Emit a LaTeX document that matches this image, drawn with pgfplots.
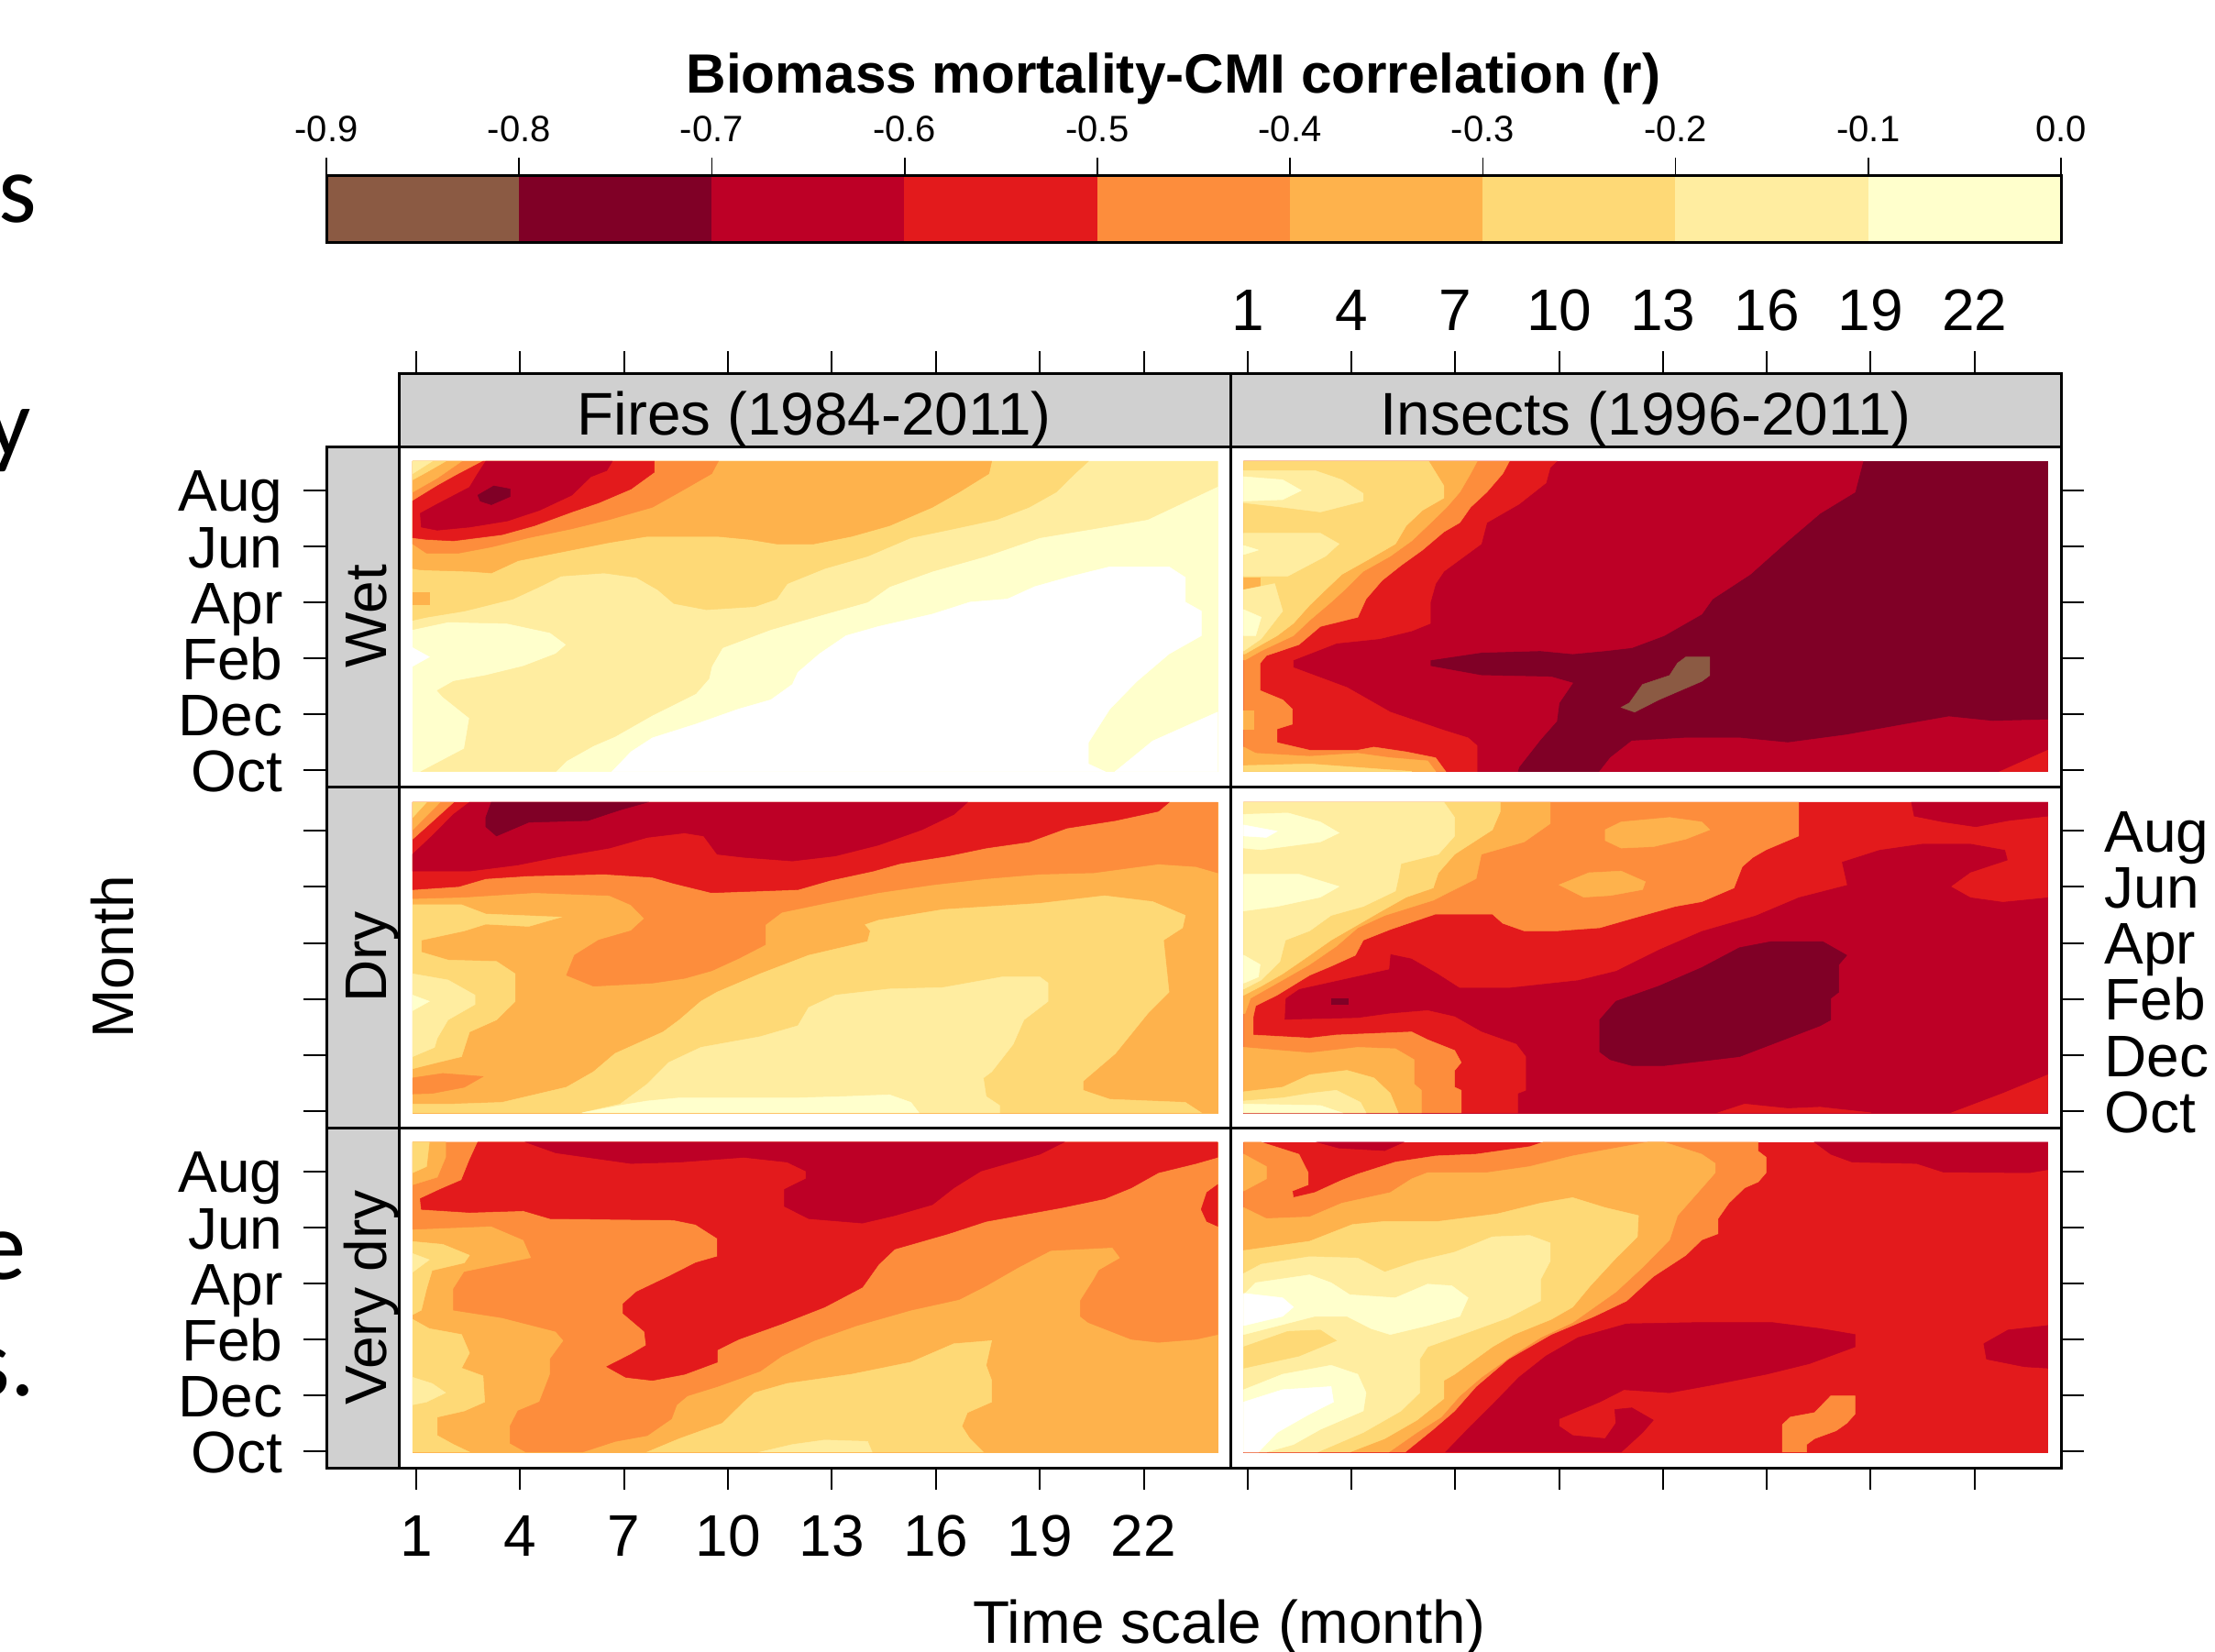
\documentclass[border=0pt]{standalone}
\usepackage{pgfplots}
\pgfplotsset{compat=1.18}
\usepackage{fontspec}
\setmainfont{Liberation Sans}
\newfontfamily\calibri{Carlito}
\definecolor{ca}{RGB}{139,90,67}
\definecolor{cb}{RGB}{128,0,38}
\definecolor{cc}{RGB}{189,0,38}
\definecolor{cd}{RGB}{227,26,28}
\definecolor{ce}{RGB}{253,141,60}
\definecolor{cf}{RGB}{254,178,76}
\definecolor{cg}{RGB}{254,217,118}
\definecolor{ch}{RGB}{255,237,160}
\definecolor{ci}{RGB}{255,255,204}
\definecolor{stripgray}{RGB}{208,208,208}
\newcommand\pg[2]{\addplot[fill=#1,draw=#1,line width=0.15pt] coordinates {#2} -- cycle;}
\newcommand\lab{\fontsize{19.2}{22}\selectfont}
\newcommand\labb{\fontsize{19.7}{22}\selectfont}
\pgfplotsset{
 panel/.style={scale only axis,anchor=north west,xmin=0.5,xmax=24.5,ymin=0.42,ymax=12.57,
   xtick=\empty,ytick=\empty,axis line style={line width=0.9pt},clip=true},
 rowticks/.style={scale only axis,anchor=north west,width=567.6pt,height=111.3pt,
   xmin=0,xmax=1,ymin=0.42,ymax=12.57,xtick=\empty,ytick={1,3,5,7,9,11},
   yticklabels={Oct,Dec,Feb,Apr,Jun,Aug},ytick pos=both,tick align=outside,major tick length=7.5pt,
   axis line style={draw=none},tick style={line width=0.6pt,black},
   tick label style={font=\lab,inner xsep=6.6pt,inner ysep=0pt,text height=13.8pt,text depth=0pt}},
 colticks/.style={scale only axis,anchor=north west,height=358.2pt,
   xmin=0.5,xmax=24.5,ymin=0,ymax=1,ytick=\empty,xtick={1,4,7,10,13,16,19,22},
   xticklabels={1,4,7,10,13,16,19,22},xtick pos=both,tick align=outside,major tick length=7.2pt,
   axis line style={draw=none},tick style={line width=0.6pt,black},
   tick label style={font=\lab}},
}
\begin{document}
\begin{tikzpicture}
\path[use as bounding box] (0,0) rectangle (724.8pt,-540.3pt);
\clip (0,0) rectangle (724.8pt,-540.3pt);
% stray letters
\node[anchor=base east,inner sep=0pt] at (12.3pt,-72.6pt) {\calibri\fontsize{32}{36}\selectfont s};
\node[anchor=base east,inner sep=0pt] at (10.3pt,-149.1pt) {\calibri\fontsize{32}{36}\selectfont y};
\node[anchor=base east,inner sep=0pt] at (8.7pt,-418.5pt) {\calibri\fontsize{32}{36}\selectfont e};
\node[anchor=base east,inner sep=0pt] at (11.7pt,-456.6pt) {\calibri\fontsize{32}{36}\selectfont s.};
% title
\node[anchor=base,inner sep=0pt] at (384pt,-30.4pt) {\fontsize{18.1}{20}\selectfont\bfseries Biomass mortality-CMI correlation (r)};
% colour bar
\begin{axis}[scale only axis,anchor=north west,at={(106.8pt,-57.3pt)},width=567.6pt,height=21.9pt,
  xmin=-0.9,xmax=0,ymin=0,ymax=1,ytick=\empty,axis on top,
  xtick={-0.9,-0.8,-0.7,-0.6,-0.5,-0.4,-0.3,-0.2,-0.1,0},
  xticklabels={-0.9,-0.8,-0.7,-0.6,-0.5,-0.4,-0.3,-0.2,-0.1,0.0},
  xtick pos=upper,xticklabel pos=upper,tick align=outside,major tick length=5.7pt,
  axis line style={line width=0.9pt},tick style={line width=0.5pt,black},
  tick label style={font=\fontsize{12}{14}\selectfont,inner ysep=4.9pt}]
\pg{ca}{(-0.9,0)(-0.8,0)(-0.8,1)(-0.9,1)}
\pg{cb}{(-0.8,0)(-0.7,0)(-0.7,1)(-0.8,1)}
\pg{cc}{(-0.7,0)(-0.6,0)(-0.6,1)(-0.7,1)}
\pg{cd}{(-0.6,0)(-0.5,0)(-0.5,1)(-0.6,1)}
\pg{ce}{(-0.5,0)(-0.4,0)(-0.4,1)(-0.5,1)}
\pg{cf}{(-0.4,0)(-0.3,0)(-0.3,1)(-0.4,1)}
\pg{cg}{(-0.3,0)(-0.2,0)(-0.2,1)(-0.3,1)}
\pg{ch}{(-0.2,0)(-0.1,0)(-0.1,1)(-0.2,1)}
\pg{ci}{(-0.1,0)(0,0)(0,1)(-0.1,1)}
\end{axis}
% strips
\foreach \a/\b in {130.5/402.6,402.6/674.4}{
 \draw[fill=stripgray,line width=0.9pt] (\a pt,-122.1pt) rectangle (\b pt,-146.1pt);}
\foreach \a/\b in {146.1/257.4,257.4/369,369/480.3}{
 \draw[fill=stripgray,line width=0.9pt] (106.8pt,-\a pt) rectangle (130.5pt,-\b pt);}
\node[anchor=base,inner sep=0pt] at (266.4pt,-142.2pt) {\labb Fires (1984-2011)};
\node[anchor=base,inner sep=0pt] at (538.5pt,-142.2pt) {\labb Insects (1996-2011)};
\node[anchor=base,inner sep=0pt,rotate=90] at (126.3pt,-201.75pt) {\lab Wet};
\node[anchor=base,inner sep=0pt,rotate=90] at (126.3pt,-313.2pt) {\lab Dry};
\node[anchor=base,inner sep=0pt,rotate=90] at (126.3pt,-424.65pt) {\lab Very dry};
\node[anchor=base,inner sep=0pt,rotate=90] at (43.5pt,-313.2pt) {\lab Month};
\node[anchor=base,inner sep=0pt] at (402.3pt,-537.6pt) {\labb Time scale (month)};

% ---------- Fires / Wet
\begin{axis}[panel,at={(130.5pt,-146.1pt)},width=272.1pt,height=111.3pt]
\pg{ci}{(.9,.96)(24.13,.96)(24.13,12.04)(.9,12.04)}
\pg{white}{(6.66,.96)(7.2,1.66)(7.82,2.16)(9.07,2.65)(10.31,3.19)(11.24,3.52)(11.86,4.07)(12.02,4.5)(12.64,5.16)(13.41,5.81)(14.35,6.14)(15.9,6.58)(16.99,7.01)(18.07,7.12)(18.85,7.56)(19.94,7.94)(21.02,8.27)(22.73,8.27)(23.2,7.89)(23.2,7.01)(23.66,6.69)(23.66,5.81)(22.73,5.16)(21.8,4.18)(21.02,3.19)(20.4,1.99)(20.4,1.23)(20.87,.96)}
\pg{white}{(21.18,.96)(22.26,2.05)(24.13,3.08)(24.13,.96)}
\pg{ch}{(24.13,11.14)(22.11,9.96)(20.56,9.63)(19,9.31)(17.45,8.65)(15.9,8.11)(14.66,7.56)(14.03,7.01)(12.79,6.58)(11.24,6.03)(9.84,5.38)(9.53,4.72)(9.45,4.28)(9.07,3.74)(7.82,2.97)(6.74,2.21)(6.12,1.88)(5.34,1.34)(5.03,.96)(1.15,.96)(2.39,1.77)(2.54,2.87)(1.77,3.63)(1.61,3.85)(2.08,4.18)(3.01,4.39)(4.1,4.72)(5.03,5.16)(5.34,5.49)(4.87,5.92)(3.63,6.25)(1.92,6.3)(.9,6.03)(.9,12.04)(24.13,12.04)}
\pg{white}{(.9,5.38)(1.38,5.05)(.9,4.72)}
\pg{cg}{(20.4,12.04)(20.01,11.6)(19.47,10.94)(18.69,10.4)(17.76,9.96)(16.52,9.63)(15.28,9.31)(14.03,8.65)(12.79,8.21)(11.71,7.67)(11.4,7.12)(10.77,6.85)(9.38,6.74)(8.44,6.96)(7.98,7.45)(7.36,7.89)(6.43,8.05)(5.18,7.94)(4.56,7.56)(3.79,7.12)(2.39,6.69)(1.3,6.47)(.9,6.36)(.9,12.04)}
\pg{cf}{(17.61,12.04)(17.53,11.6)(16.67,10.94)(15.9,10.4)(14.66,9.74)(13.57,9.36)(12.48,9.09)(11.4,9.09)(10.62,9.25)(9.69,9.36)(7.67,9.36)(6.58,9.14)(5.03,8.76)(3.94,8.49)(3.17,8.05)(2.54,8.11)(1.15,8.16)(.9,8.21)(.9,12.04)}
\pg{cf}{(.9,7.37)(1.38,7.37)(1.38,6.94)(.9,6.94)}
\pg{ce}{(9.72,12.04)(9.53,11.6)(8.6,10.94)(7.82,10.4)(6.58,9.96)(5.49,9.63)(4.25,9.31)(3.17,8.98)(2.23,8.76)(1.3,8.76)(.9,9.09)(.9,12.04)}
\pg{cd}{(7.87,12.04)(7.87,11.65)(7.2,11.05)(6.27,10.56)(5.49,10.23)(4.41,9.74)(3.48,9.42)(2.08,9.2)(1.3,9.25)(.9,9.31)(.9,10.62)(1.61,11.16)(2.16,11.54)(2.93,12.04)}
\pg{cc}{(6.66,12.04)(6.5,11.71)(6.04,11.49)(5.49,10.83)(4.56,10.29)(3.63,9.91)(2.54,9.69)(1.61,9.58)(1.15,9.69)(1.12,10.18)(1.61,10.51)(2.54,11.11)(2.78,11.6)(3.01,12.04)}
\pg{cb}{(2.78,10.83)(3.24,11.16)(3.71,11.05)(3.71,10.78)(3.17,10.49)(2.85,10.62)}
\pg{cf}{(.9,10.94)(1.61,11.44)(2.31,12.04)(.9,12.04)}
\pg{cg}{(.9,11.38)(1.3,11.65)(1.85,12.04)(.9,12.04)}
\pg{ch}{(.9,11.6)(1.46,12.04)(.9,12.04)}
\end{axis}

% ---------- Insects / Wet
\begin{axis}[panel,at={(402.6pt,-146.1pt)},width=271.8pt,height=111.3pt]
\pg{cb}{(.89,.96)(24.12,.96)(24.12,12.04)(.89,12.04)}
\pg{cc}{(18.78,12.04)(18.55,10.94)(17.54,10.18)(16.61,9.2)(15.52,8)(14.43,7.12)(14.12,6.58)(13.03,5.81)(12.1,5.38)(11.33,5.27)(10.39,5.16)(9.46,5.27)(7.75,5.21)(6.28,4.94)(6.28,4.72)(7.75,4.39)(9.77,4.34)(10.39,4.12)(10,3.41)(9.93,2.76)(9.46,2.1)(8.84,1.12)(8.8,.96)(.89,.96)(.89,12.04)}
\pg{cc}{(11.17,.96)(11.48,1.45)(12.1,2.05)(13.66,2.16)(15.21,2.16)(16.61,1.99)(18.31,2.27)(20.02,2.65)(21.26,2.92)(22.51,2.76)(24.12,2.81)(24.12,.96)}
\pg{cd}{(22.74,.96)(24.12,1.72)(24.12,.96)}
\pg{ca}{(13.66,5.05)(14.35,5.05)(14.35,4.39)(14.12,4.18)(12.88,3.52)(12.18,3.08)(11.79,3.25)(12.03,3.41)(12.41,4.07)(13.19,4.39)(13.42,4.83)}
\pg{cd}{(9.93,12.04)(9.74,11.82)(9.62,11.27)(8.84,10.51)(7.91,9.85)(7.75,9.09)(6.67,8.11)(6.43,7.67)(6.28,7.01)(6.28,6.25)(5.74,5.98)(4.81,5.7)(3.57,5.54)(2.32,4.94)(2.32,4.67)(3.87,3.96)(5.12,3.08)(6.67,2.43)(7.37,2.16)(7.63,1.88)(7.63,.96)(.89,.96)(.89,12.04)}
\pg{ce}{(8.56,12.04)(8.37,11.6)(7.91,10.94)(7.44,10.4)(7.13,9.85)(6.67,9.52)(6.05,8.87)(5.43,8.32)(4.88,7.78)(4.42,7.12)(4.18,6.47)(3.1,6.14)(2.48,5.49)(1.54,5.1)(1.36,4.83)(1.36,3.85)(2.01,3.52)(2.29,3.19)(2.29,2.65)(1.85,2.48)(1.85,1.99)(2.79,1.72)(4.18,1.72)(4.65,1.83)(5.58,1.66)(6.43,1.45)(6.72,.96)(.89,.96)(.89,12.04)}
\pg{cf}{(7.63,12.04)(7.44,11.6)(7.13,10.94)(6.75,10.4)(6.2,9.74)(5.74,9.2)(5.12,8.65)(4.34,8.11)(3.8,7.45)(3.41,7.01)(2.79,6.36)(2.32,5.81)(1.39,5.27)(.92,4.94)(.89,4.94)(.89,12.04)}
\pg{cf}{(.89,1.83)(1.23,1.61)(2.79,1.5)(4.18,1.61)(5.12,1.45)(6.2,1.34)(6.43,.96)(.89,.96)}
\pg{cf}{(.89,3.14)(1.16,3.14)(1.16,2.48)(.89,2.48)}
\pg{cg}{(.89,1.17)(2.79,1.23)(5.74,.96)(.89,.96)}
\pg{cg}{(6.23,12.04)(6.67,11.16)(6.67,10.73)(6.05,10.29)(5.58,9.74)(5.27,9.09)(4.5,8.54)(3.72,8)(3.25,7.45)(2.79,6.9)(2.32,6.25)(1.85,5.81)(.92,5.16)(.89,5.16)(.89,12.04)}
\pg{ch}{(.89,11.71)(2.94,11.71)(3.72,11.38)(4.34,10.89)(4.34,10.62)(3.1,10.23)(2.01,10.4)(.89,10.56)}
\pg{ci}{(.89,11.49)(2.01,11.38)(2.55,11)(2.01,10.67)(.89,10.62)}
\pg{ch}{(.89,9.47)(3.1,9.47)(3.64,9.09)(3.25,8.65)(2.16,7.94)(.89,7.94)}
\pg{ci}{(.89,9.03)(1.31,8.87)(.89,8.71)}
\pg{cf}{(.89,7.89)(1.36,7.89)(1.36,7.5)(.89,7.5)}
\pg{ch}{(.89,7.45)(1.78,7.67)(2.01,6.69)(1.39,5.7)(.89,5.27)}
\pg{ci}{(.89,6.74)(1.39,6.47)(1.23,5.81)(.89,5.81)}
\end{axis}

% ---------- Fires / Dry
\begin{axis}[panel,at={(130.5pt,-257.4pt)},width=272.1pt,height=111.6pt]
\pg{cf}{(.9,.95)(24.13,.95)(24.13,12.01)(.9,12.01)}
\pg{ce}{(24.13,9.5)(23.51,9.72)(22.42,9.81)(20.56,9.5)(19,9.45)(17.45,9.29)(15.9,9.07)(14.35,8.79)(12.79,8.41)(11.55,8.09)(11.08,7.65)(11.08,6.94)(10.31,6.45)(9.53,6.01)(8.75,5.74)(7.82,5.57)(6.12,5.46)(5.34,5.85)(5.57,6.56)(6.27,7.1)(7.2,7.43)(7.59,7.87)(7.2,8.36)(6.58,8.69)(4.41,8.79)(2.39,8.63)(.9,8.58)(.9,12.01)(24.13,12.01)}
\pg{ce}{(.9,2.19)(1.77,2.35)(2.93,2.24)(2.39,1.86)(1.46,1.64)(.9,1.62)}
\pg{cd}{(22.73,12.01)(22.42,11.69)(21.18,11.36)(19.78,11.09)(18.69,10.6)(17.45,10.38)(16.36,10.1)(14.97,9.83)(14.19,9.56)(12.95,9.23)(12.02,8.9)(9.53,8.79)(8.44,9.12)(7.82,9.34)(6.43,9.45)(4.25,9.39)(3.01,9.29)(2.23,9.01)(.9,8.9)(.9,12.01)}
\pg{cc}{(16.91,12.01)(16.52,11.58)(15.59,11.03)(14.35,10.49)(13.1,10.1)(11.86,9.92)(10.46,10.05)(9.69,10.16)(9.3,10.81)(8.75,10.92)(7.67,10.76)(6.58,10.38)(5.03,10.05)(3.94,9.78)(2.54,9.56)(.9,9.56)(.9,10.16)(1.46,10.81)(2.08,11.58)(2.54,12.01)}
\pg{ce}{(.9,10.7)(1.3,11.14)(2.08,12.01)(.9,12.01)}
\pg{cf}{(.9,11.03)(1.69,12.01)(.9,12.01)}
\pg{cg}{(.9,11.47)(1.3,12.01)(.9,12.01)}
\pg{cb}{(3.17,12.01)(7.67,12.01)(6.89,11.74)(5.96,11.36)(4.25,11.3)(3.32,10.81)(3.01,11.14)(3.01,11.47)}
\pg{cg}{(.9,1.26)(2.08,1.26)(3.48,1.32)(5.34,1.86)(6.12,2.41)(6.74,3.06)(8.13,3.83)(8.6,4.26)(9.22,4.92)(9.69,5.25)(10.93,5.9)(12.33,6.56)(14.03,7.05)(14.11,7.43)(13.96,7.65)(14.35,7.81)(16.21,8.19)(19,8.41)(20.87,8.68)(22.26,8.47)(23.2,7.98)(23.12,7.54)(22.57,7.1)(22.73,5.25)(22.11,4.48)(21.18,3.06)(20.25,2.08)(20.25,1.75)(21.02,1.43)(23.2,1.32)(23.66,.95)(.9,.95)}
\pg{cg}{(.9,8.36)(2.31,8.36)(3.01,8.03)(5.18,7.92)(4.25,7.59)(3.01,7.67)(2.39,7.43)(1.15,7.1)(1.15,6.67)(1.92,6.39)(3.32,6.34)(3.86,5.9)(3.86,4.92)(3.32,4.26)(2.54,3.83)(2.31,2.95)(1.61,2.74)(.9,2.52)}
\pg{ch}{(.9,5.9)(1.92,5.68)(2.7,5.14)(2.7,4.81)(1.92,4.26)(1.61,3.61)(1.53,3.28)(.9,2.95)}
\pg{ci}{(.9,5.14)(1.38,4.92)(.9,4.59)}
\pg{ch}{(5.8,.95)(6.89,1.26)(7.67,1.97)(8.29,2.74)(9.22,3.28)(10.93,3.66)(12.02,4.05)(12.33,4.7)(13.1,5.14)(14.66,5.36)(16.21,5.41)(17.92,5.79)(19,5.79)(19.24,5.57)(19.24,4.92)(18.54,4.26)(18.23,3.39)(17.61,2.41)(17.37,2.19)(17.45,1.53)(17.84,1.21)(17.84,.95)}
\pg{ci}{(5.8,.95)(6.89,1.21)(7.67,1.37)(8.6,1.48)(12.02,1.48)(13.41,1.53)(14.66,1.59)(15.28,1.32)(15.51,.95)}
\end{axis}

% ---------- Insects / Dry
\begin{axis}[panel,at={(402.6pt,-257.4pt)},width=271.8pt,height=111.6pt]
\pg{cc}{(.89,.95)(24.12,.95)(24.12,12.01)(.89,12.01)}
\pg{cb}{(11.17,4.26)(11.64,4.92)(12.88,5.46)(14.12,6.12)(15.21,6.83)(16.14,7.05)(17.61,7.05)(18.31,6.56)(18.08,6.23)(18.08,5.25)(17.85,5.03)(17.85,4.26)(17.54,4.05)(16.61,3.61)(15.21,2.95)(14.12,2.79)(13.03,2.63)(12.1,2.63)(11.48,2.84)(11.17,3.12)}
\pg{cb}{(3.41,5.03)(3.9,5.03)(3.9,4.81)(3.41,4.81)}
\pg{cd}{(24.12,8.63)(22.82,8.47)(21.89,8.63)(21.34,9.01)(21.89,9.5)(22.97,9.94)(22.89,10.32)(21.89,10.54)(20.49,10.54)(19.25,10.32)(18.16,9.89)(18.31,9.07)(16.92,8.63)(15.67,7.98)(14.12,7.43)(12.88,6.77)(11.64,6.01)(10.55,5.68)(8.53,5.41)(7.13,5.41)(6.51,5.9)(5.74,6.45)(5.12,6.61)(5.08,6.07)(3.87,5.74)(2.48,5.36)(2.09,5.03)(2.06,4.26)(4.18,4.32)(5.12,4.48)(6.2,4.59)(6.98,4.37)(7.75,3.83)(8.76,3.39)(9.03,2.95)(9.03,1.75)(8.8,1.64)(8.8,.95)(.89,.95)(.89,12.01)(24.12,12.01)}
\pg{cc}{(20.18,12.01)(20.26,11.52)(21.11,11.31)(22.04,11.14)(22.97,11.36)(24.12,11.52)(24.12,12.01)}
\pg{cd}{(21.34,.95)(22.82,1.64)(24.12,2.3)(24.12,.95)}
\pg{cd}{(14.59,.95)(15.36,1.26)(16.61,1.1)(17.54,1.15)(19.01,.95)}
\pg{ce}{(16.92,12.01)(16.92,10.81)(15.98,10.32)(15.6,10.05)(15.29,9.72)(15.05,8.96)(14.12,8.47)(13.35,8.3)(12.1,7.87)(11.17,7.54)(9.93,7.43)(8.99,7.43)(8.37,7.7)(8.07,8.03)(6.43,8.03)(5.12,7.48)(4.34,7.1)(4.11,6.56)(3.41,6.17)(2.79,5.85)(1.85,5.14)(1.23,4.76)(1.16,4.37)(1.16,3.72)(2.79,3.61)(3.56,3.72)(5.74,3.83)(6.2,3.55)(6.98,3.17)(7.17,2.74)(6.98,2.46)(6.98,1.86)(7.17,1.75)(7.17,.95)(.89,.95)(.89,12.01)}
\pg{cf}{(11.33,11.03)(11.79,11.31)(13.19,11.47)(14.12,11.31)(14.35,11.03)(13.66,10.7)(12.72,10.43)(11.79,10.38)(11.33,10.65)}
\pg{cf}{(10,9.07)(10.86,9.5)(11.79,9.56)(12.49,9.18)(12.41,8.9)(11.48,8.69)(10.71,8.63)}
\pg{cf}{(9.74,12.01)(9.74,11.25)(8.99,10.6)(7.75,10.16)(7.6,9.29)(6.36,8.52)(4.96,7.98)(4.18,7.54)(3.56,6.88)(2.79,6.23)(2.01,5.68)(1.08,5.03)(.92,4.48)(.89,4.48)(.89,12.01)}
\pg{cf}{(.89,3.28)(2.79,3.08)(4.18,3.28)(5.27,3.23)(5.81,2.84)(5.81,1.97)(6.02,1.75)(6.02,.95)(.89,.95)}
\pg{cg}{(.89,1.7)(2.01,1.86)(2.79,2.3)(3.87,2.46)(4.65,2.19)(5.12,1.64)(5.35,.95)(.89,.95)}
\pg{ch}{(.89,1.37)(2.01,1.48)(2.79,1.64)(3.56,1.75)(4.26,1.32)(4.42,.95)(.89,.95)}
\pg{ci}{(.89,1.26)(3.1,1.21)(3.72,.95)(.89,.95)}
\pg{cg}{(8.3,12.01)(8.3,11.69)(8.07,11.03)(6.98,10.16)(6.51,9.5)(6.36,8.96)(5.58,8.63)(4.8,8.09)(4.03,7.54)(3.41,7.1)(2.79,6.56)(2.01,5.9)(1.39,5.46)(.89,5.14)(.89,12.01)}
\pg{ch}{(6.67,12.01)(6.98,11.47)(6.98,10.81)(6.51,10.16)(5.43,9.83)(5.35,9.29)(5.27,8.85)(4.34,8.3)(3.41,7.98)(2.79,7.43)(2.09,7.1)(1.93,6.34)(1.39,5.68)(.89,5.36)(.89,12.01)}
\pg{ci}{(.89,11.58)(2.16,11.63)(3.1,11.31)(3.64,10.92)(3.1,10.6)(1.39,10.32)(.89,10.38)}
\pg{white}{(.89,11.2)(1.85,10.98)(1.54,10.76)(.89,10.81)}
\pg{ci}{(.89,9.45)(2.48,9.45)(3.64,9.01)(3.1,8.63)(1.85,8.3)(.89,8.14)}
\pg{ci}{(.89,6.56)(1.36,6.23)(1.31,5.79)(.89,5.57)}
\end{axis}

% ---------- Fires / Very dry
\begin{axis}[panel,at={(130.5pt,-369pt)},width=272.1pt,height=111.3pt]
\pg{cf}{(.9,.98)(24.13,.98)(24.13,12.05)(.9,12.05)}
\pg{ce}{(24.13,5.18)(23.51,5.01)(22.42,4.9)(21.64,5.01)(20.4,5.61)(20.17,5.83)(20.17,6.38)(20.56,7.14)(20.71,7.47)(21.33,7.91)(21.1,8.29)(19.31,8.18)(18.38,7.58)(17.45,6.92)(16.67,6.43)(15.28,6.05)(13.72,5.5)(12.48,4.96)(11.55,4.41)(10.93,3.87)(9.69,3.32)(8.83,2.99)(8.52,2.67)(8.37,2.17)(7.67,1.57)(6.74,1.36)(5.8,.98)(4.17,.98)(3.71,1.3)(3.71,1.9)(3.94,2.45)(4.56,2.77)(4.87,3.76)(4.87,4.3)(5.26,4.96)(5.03,5.29)(3.48,5.78)(2.08,6.05)(2.08,6.81)(2.39,7.41)(3.48,7.69)(4.33,7.91)(4.1,8.56)(3.17,9.05)(.9,8.94)(.9,12.05)(24.13,12.05)}
\pg{cd}{(24.13,11.51)(23.51,11.29)(22.42,10.96)(21.64,10.42)(20.87,10.03)(19.63,9.71)(17.45,9.22)(16.36,8.78)(14.81,8.23)(14.35,7.69)(13.88,6.87)(12.79,6.16)(11.55,5.56)(10.31,5.01)(9.69,4.63)(9.69,4.19)(8.75,3.76)(7.82,3.54)(7.05,3.65)(6.5,4.03)(7.2,4.47)(7.64,4.79)(7.59,5.29)(6.97,5.94)(6.97,6.27)(7.36,6.7)(8.29,7.25)(9.07,7.74)(9.69,7.96)(9.69,8.62)(9.07,9.11)(8.44,9.27)(4.87,9.32)(4.1,9.6)(2.54,9.54)(1.15,9.65)(1.12,10.03)(1.69,10.36)(2.31,10.69)(2.54,11.4)(2.78,12.05)(24.13,12.05)}
\pg{cd}{(24.13,10.53)(23.82,10.25)(23.66,9.65)(23.82,9.22)(24.13,9.05)}
\pg{cc}{(4.17,12.05)(5.03,11.67)(7.2,11.29)(8.6,11.34)(10.46,11.51)(11.71,11.34)(12.25,11.02)(12.25,10.74)(11.63,10.36)(11.63,9.76)(12.33,9.32)(13.88,9.16)(14.81,9.43)(15.9,9.82)(16.52,10.42)(17.3,11.02)(19,11.62)(19.7,12.05)}
\pg{cf}{(.9,10.53)(1.61,10.8)(1.85,11.51)(1.85,12.05)(.9,12.05)}
\pg{cg}{(.9,10.96)(1.3,11.18)(1.38,12.05)(.9,12.05)}
\pg{cg}{(.9,8.5)(1.77,8.4)(2.54,8.01)(2.39,7.74)(1.46,7.47)(1.3,6.81)(1.15,6.05)(.9,5.89)}
\pg{ch}{(.9,8.07)(1.38,7.85)(.9,7.41)}
\pg{cg}{(.9,5.72)(1.38,5.39)(2.31,5.18)(2.54,4.52)(2.31,3.98)(2.93,3.7)(2.98,2.77)(2.39,2.45)(1.61,2.23)(1.61,1.57)(2.08,1.25)(2.54,.98)(.9,.98)}
\pg{ch}{(.9,3.65)(1.46,3.43)(1.85,3.1)(1.3,2.77)(.9,2.67)}
\pg{cg}{(7.67,.98)(8.6,1.46)(9.84,2.01)(10.46,2.77)(10.77,3.1)(11.71,3.43)(13.57,3.76)(15.28,4.19)(16.52,4.85)(17.61,4.96)(17.45,4.08)(17.61,3.54)(17.61,2.77)(16.91,2.39)(16.75,1.9)(16.98,1.46)(17.37,.98)}
\pg{ch}{(10.93,.98)(11.86,1.25)(12.79,1.41)(14.03,1.36)(14.16,.98)}
\end{axis}

% ---------- Insects / Very dry
\begin{axis}[panel,at={(402.6pt,-369pt)},width=271.8pt,height=111.3pt]
\pg{cd}{(.89,.98)(24.12,.98)(24.12,12.05)(.89,12.05)}
\pg{cc}{(17.38,12.05)(17.85,11.62)(18.47,11.34)(20.33,11.29)(21.11,10.98)(23.59,10.96)(24.12,11.07)(24.12,12.05)}
\pg{cc}{(24.12,5.5)(22.97,5.34)(22.27,4.85)(22.35,4.3)(23.44,4.03)(24.12,3.98)}
\pg{cc}{(6.72,.98)(7.44,1.9)(8.07,2.67)(8.84,3.65)(9.62,4.41)(10.55,5.07)(11.95,5.56)(14.12,5.61)(16.14,5.61)(17.54,5.39)(18.55,5.18)(18.55,4.74)(17.23,4.14)(15.98,3.76)(14.43,3.38)(13.19,3.1)(11.87,3.21)(11.17,2.77)(10,2.17)(10,1.9)(10.39,1.57)(11.33,1.46)(11.64,2.01)(11.61,2.5)(12.1,2.56)(12.72,2.12)(12.41,1.68)(11.79,.98)}
\pg{cc}{(3.02,12.05)(3.64,11.84)(4.96,11.75)(5.5,12.05)}
\pg{ce}{(16.45,.98)(16.45,1.96)(16.68,2.23)(17.38,2.39)(17.85,2.99)(18.55,2.99)(18.55,2.34)(18.31,2.01)(18,1.74)(17.38,1.46)(17.15,1.25)(17.15,.98)}
\pg{ce}{(.89,.98)(5.55,.98)(6.36,1.79)(6.98,2.45)(7.6,3.32)(8.53,4.3)(9.77,5.18)(11.02,5.83)(11.95,6.38)(12.72,7.25)(13.66,8.01)(14.12,8.56)(14.59,8.78)(14.59,9.32)(14.9,9.87)(15.36,10.42)(15.75,10.63)(15.98,10.96)(15.98,11.51)(15.75,11.73)(15.75,12.05)(9.54,12.05)(9.15,11.89)(7.6,11.62)(6.44,11.56)(5.27,11.34)(4.18,10.91)(3.72,10.69)(2.94,10.25)(2.32,10.07)(2.29,10.31)(2.75,10.53)(2.75,10.96)(2.48,11.62)(1.39,12.05)(.89,12.05)}
\pg{cf}{(.89,.98)(5.08,.98)(5.89,1.68)(6.59,2.23)(7.13,2.99)(7.75,3.65)(8.69,4.47)(9.46,5.07)(10.39,5.61)(11.64,6.7)(12.41,7.58)(13.19,8.56)(13.42,9.43)(13.97,10.2)(14.51,10.96)(14.51,11.29)(14.12,11.62)(13.03,12.05)(12.57,12.05)(10.39,11.56)(9.15,11.18)(7.91,10.96)(6.2,10.96)(5.74,10.74)(5.12,10.25)(3.72,9.87)(2.79,9.38)(1.54,9.32)(.89,9.71)}
\pg{cf}{(.89,11.62)(1.54,11.18)(1.54,10.74)(.89,10.31)}
\pg{cg}{(3.95,.98)(4.96,1.46)(5.89,2.12)(6.67,2.89)(6.67,3.54)(6.98,3.76)(8.07,4.74)(8.69,5.18)(9.77,5.72)(10.39,6.16)(10.9,6.92)(11.64,7.91)(12.26,8.67)(12.29,9.43)(11.33,9.71)(10.39,10.07)(9.46,9.87)(8.22,9.49)(6.51,9.22)(4.96,9.22)(4.03,9.11)(2.79,8.51)(.89,8.18)(.89,.98)}
\pg{ch}{(3.02,.98)(4.34,1.68)(5.43,2.45)(5.97,3.1)(5.97,4.3)(6.2,4.74)(7.44,5.29)(8.53,5.78)(9.46,6.38)(9.46,7.14)(9.74,7.8)(9.74,8.45)(9.15,8.72)(8.07,8.67)(6.98,8.12)(5.89,7.8)(4.96,7.41)(4.18,7.91)(2.79,7.96)(1.39,7.69)(.89,7.36)(.89,.98)}
\pg{cg}{(.89,4.74)(2.16,5.29)(3.1,5.34)(3.56,4.96)(2.48,4.41)(.89,3.98)}
\pg{ci}{(.89,6.6)(1.23,7.03)(2.79,7.31)(3.41,7.03)(3.95,6.6)(5.27,6.49)(6.2,6.98)(6.9,6.92)(7.37,6.49)(7.13,5.83)(6.2,5.5)(5.12,5.18)(4.57,5.39)(3.87,5.83)(2.94,5.83)(.89,5.18)}
\pg{white}{(.89,6.65)(2.01,6.49)(2.32,6.16)(2.01,5.83)(.89,5.5)}
\pg{ci}{(.89,3.21)(2.01,3.76)(3.41,4.08)(4.18,3.76)(4.42,3.1)(4.34,2.45)(3.1,1.79)(2.32,1.25)(1.54,.98)(.89,.98)}
\pg{white}{(.89,2.77)(2.01,3.21)(3.41,3.32)(3.48,2.77)(2.79,2.34)(1.85,1.68)(1.31,.98)(.89,.98)}
\end{axis}

% ---------- tick axes
\begin{axis}[rowticks,at={(106.8pt,-146.1pt)},yticklabel pos=left]\end{axis}
\begin{axis}[rowticks,at={(106.8pt,-257.4pt)},yticklabel pos=right,height=111.6pt]\end{axis}
\begin{axis}[rowticks,at={(106.8pt,-369pt)},yticklabel pos=left]\end{axis}
\begin{axis}[colticks,at={(130.5pt,-122.1pt)},width=272.1pt,xticklabel pos=lower,
  xticklabel style={inner ysep=8.2pt}]\end{axis}
\begin{axis}[colticks,at={(402.6pt,-122.1pt)},width=271.8pt,xticklabel pos=upper,
  xticklabel style={inner ysep=6.4pt}]\end{axis}
\end{tikzpicture}
\end{document}
